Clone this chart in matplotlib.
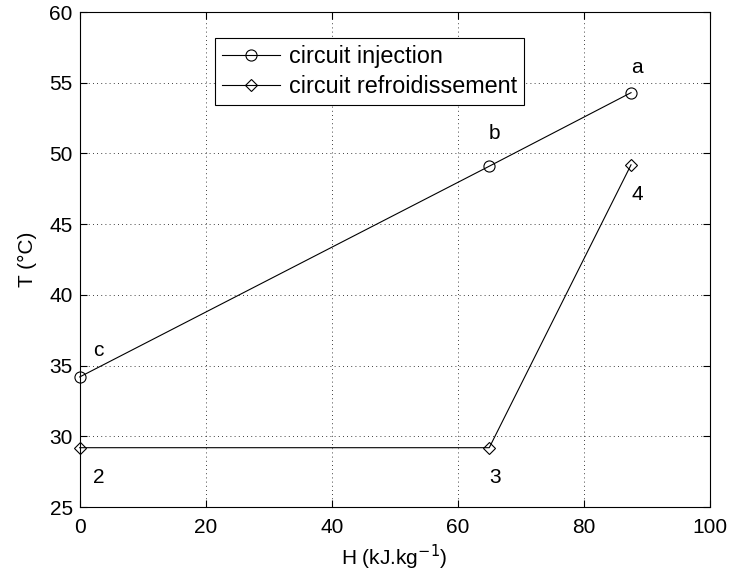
import matplotlib
matplotlib.use("Agg")
import matplotlib.pyplot as plt

plt.rcParams['font.family'] = ['Liberation Sans', 'DejaVu Sans']

H_inj = [0, 65, 87.5]
T_inj = [34.2, 49.1, 54.3]
lab_inj = ['c', 'b', 'a']
H_ref = [0, 65, 87.5]
T_ref = [29.2, 29.2, 49.2]
lab_ref = ['2', '3', '4']

FS = 15
fig = plt.figure(figsize=(7.31, 5.73), dpi=100)
ax = fig.add_axes([0.109, 0.115, 0.862, 0.864])
ax.plot(H_inj, T_inj, '-o', color='black', lw=0.8, mfc='none', ms=8, mew=0.8,
        label='circuit injection', clip_on=False, zorder=3)
ax.plot(H_ref, T_ref, '-D', color='black', lw=0.8, mfc='none', ms=6.5, mew=0.8,
        label='circuit refroidissement', clip_on=False, zorder=3)

# point labels
offs_inj = [(2.9, 1.85), (0.8, 2.3), (1.0, 1.8)]
for x, y, t, (dx, dy) in zip(H_inj, T_inj, lab_inj, offs_inj):
    ax.text(x + dx, y + dy, t, fontsize=FS, ha='center', va='center')
offs_ref = [(3.0, -2.1), (1.0, -2.1), (1.0, -2.1)]
for x, y, t, (dx, dy) in zip(H_ref, T_ref, lab_ref, offs_ref):
    ax.text(x + dx, y + dy, t, fontsize=FS, ha='center', va='center')

ax.set_xlim(0, 100)
ax.set_ylim(25, 60)
ax.set_xticks(range(0, 101, 20))
ax.set_yticks(range(25, 61, 5))
ax.tick_params(direction='in', top=True, right=True, labelsize=FS, length=5, width=0.8)
ax.tick_params(axis='x', pad=8)
ax.tick_params(axis='y', pad=5)
ax.grid(True, linestyle=(0, (1, 4)), color='black', lw=0.6)
for s in ax.spines.values():
    s.set_linewidth(0.8)
ax.set_xlabel('H (kJ.kg$^{-1}$)', fontsize=FS, labelpad=4)
ax.set_ylabel('T (°C)', fontsize=FS, labelpad=9)
leg = ax.legend(loc='upper left', bbox_to_anchor=(0.214, 0.947), fontsize=16.8,
                fancybox=False, edgecolor='black', framealpha=1, handlelength=2.5,
                handletextpad=0.4, borderpad=0.3, labelspacing=0.28, borderaxespad=0)
leg.get_frame().set_linewidth(0.8)
fig.savefig('out.png', dpi=100)
